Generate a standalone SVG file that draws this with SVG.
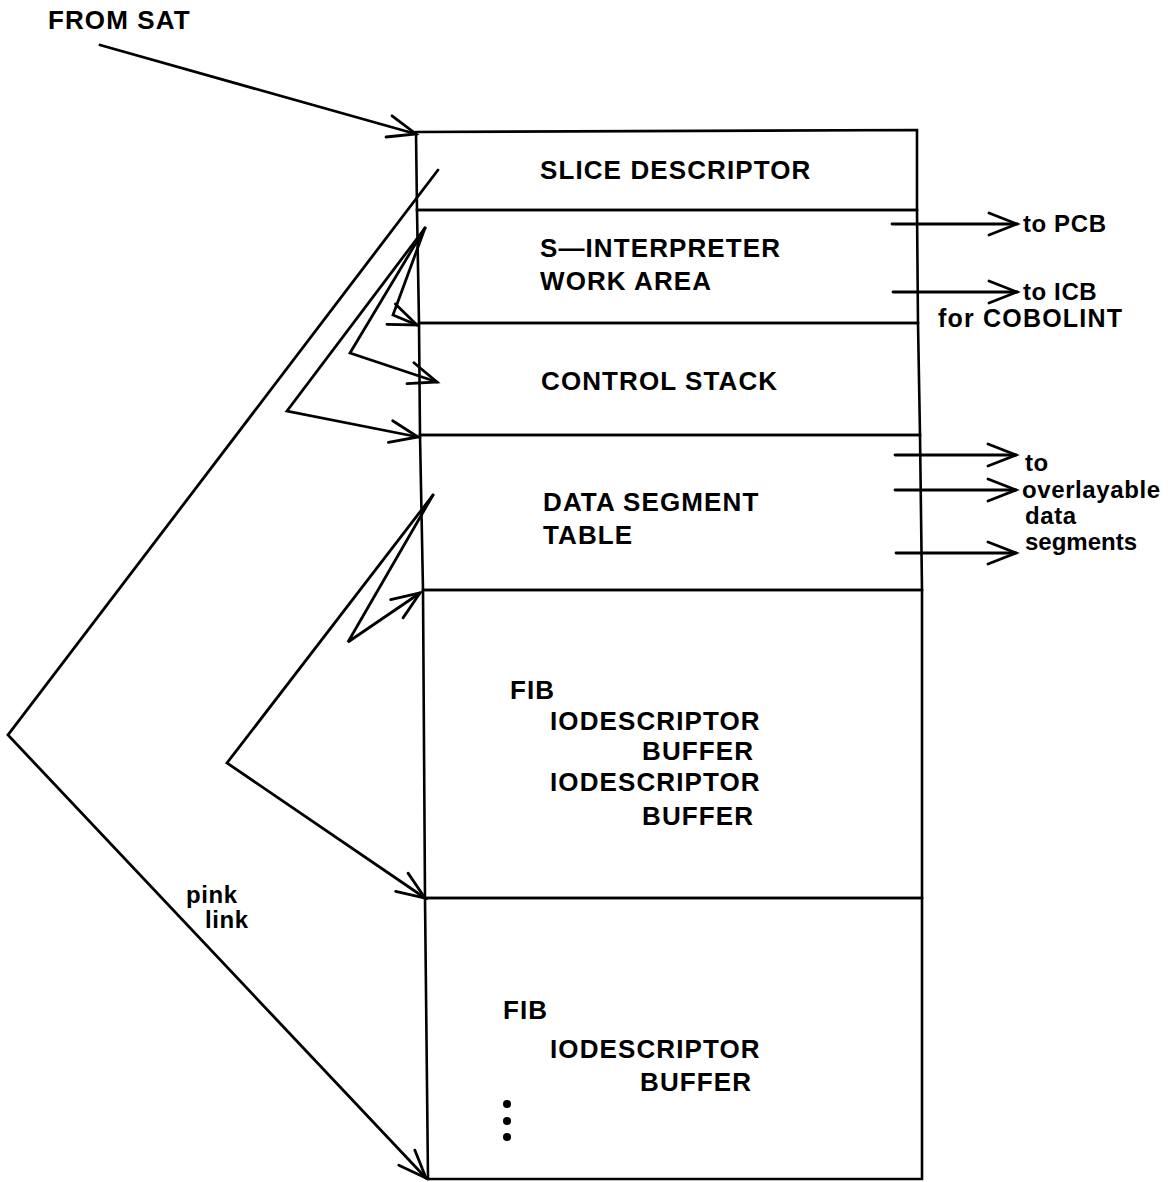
<svg xmlns="http://www.w3.org/2000/svg" width="1170" height="1182" viewBox="0 0 1170 1182">
<style>
.box{fill:none;stroke:#000;stroke-width:2.6;stroke-linejoin:miter}
.ln{fill:none;stroke:#000;stroke-width:2.8;stroke-linejoin:miter;stroke-linecap:round}
.t{font-family:"Liberation Sans",Arial,sans-serif;font-weight:bold;font-size:26px;letter-spacing:1.1px;fill:#000}
.s{font-family:"Liberation Sans",Arial,sans-serif;font-weight:bold;font-size:24px;letter-spacing:0.6px;fill:#000}
</style>
<defs>
<marker id="ah" markerUnits="userSpaceOnUse" markerWidth="40" markerHeight="30" viewBox="-32 -15 40 30" refX="0" refY="0" orient="auto" overflow="visible">
<path d="M-28,-11 L0,0 L-28,11" fill="none" stroke="#000" stroke-width="2.8" stroke-linecap="round" stroke-linejoin="miter"/>
</marker>
</defs>
<rect width="1170" height="1182" fill="#fff"/>
<g id="from-sat"><text class="t" x="48" y="29">FROM SAT</text></g>
<g id="slice-descriptor">
<polygon class="box" points="416,132 917,130 917,210 417,210"/>
<text class="t" x="540" y="179">SLICE DESCRIPTOR</text>
</g>
<g id="s-interpreter">
<polygon class="box" points="417,210 917,210 918,323 419,323"/>
<text class="t" x="540" y="257">S—INTERPRETER</text>
<text class="t" x="540" y="290">WORK AREA</text>
</g>
<g id="control-stack">
<polygon class="box" points="419,323 918,323 920,435 420,435"/>
<text class="t" x="541" y="390">CONTROL STACK</text>
</g>
<g id="data-segment-table">
<polygon class="box" points="420,435 920,435 922,590 423,590"/>
<text class="t" x="543" y="511">DATA SEGMENT</text>
<text class="t" x="543" y="544">TABLE</text>
</g>
<g id="fib-1">
<polygon class="box" points="423,590 922,590 922,898 425,898"/>
<text class="t" x="510" y="699">FIB</text>
<text class="t" x="550" y="730">IODESCRIPTOR</text>
<text class="t" x="642" y="760">BUFFER</text>
<text class="t" x="550" y="791">IODESCRIPTOR</text>
<text class="t" x="642" y="825">BUFFER</text>
</g>
<g id="fib-2">
<polygon class="box" points="425,898 922,898 922,1179 428,1179"/>
<text class="t" x="503" y="1019">FIB</text>
<text class="t" x="550" y="1058">IODESCRIPTOR</text>
<text class="t" x="640" y="1091">BUFFER</text>
<circle cx="507" cy="1104" r="4"/>
<circle cx="507" cy="1121" r="4"/>
<circle cx="507" cy="1137" r="4"/>
</g>
<g id="pink-link-label">
<text class="s" x="186" y="903">pink</text>
<text class="s" x="205" y="928">link</text>
</g>
<g id="right-labels">
<text class="s" x="1023" y="232">to PCB</text>
<text class="s" x="1023" y="300">to ICB</text>
<text class="s" x="938" y="327" style="font-size:25px;letter-spacing:1.2px">for COBOLINT</text>
<text class="s" x="1025" y="471">to</text>
<text class="s" x="1022" y="498">overlayable</text>
<text class="s" x="1025" y="524">data</text>
<text class="s" x="1025" y="550" style="letter-spacing:0px">segments</text>
</g>
<g id="connectors">
<path class="ln" d="M100,45 L416,134" marker-end="url(#ah)"/>
<path class="ln" d="M438,170 L8,735 L426,1178" marker-end="url(#ah)"/>
<path class="ln" d="M425,228 L287,411 L418,437" marker-end="url(#ah)"/>
<path class="ln" d="M425,228 L350,353 L437,382" marker-end="url(#ah)"/>
<path class="ln" d="M425,228 L393,315 L417,325" marker-end="url(#ah)"/>
<path class="ln" d="M433,495 L227,763 L425,898" marker-end="url(#ah)"/>
<path class="ln" d="M433,495 L348,642 L420,593" marker-end="url(#ah)"/>
<path class="ln" d="M892,224 L1017,224" marker-end="url(#ah)"/>
<path class="ln" d="M893,292 L1017,292" marker-end="url(#ah)"/>
<path class="ln" d="M895,455 L1016,455" marker-end="url(#ah)"/>
<path class="ln" d="M895,490 L1016,490" marker-end="url(#ah)"/>
<path class="ln" d="M896,553 L1016,553" marker-end="url(#ah)"/>
</g>
</svg>
